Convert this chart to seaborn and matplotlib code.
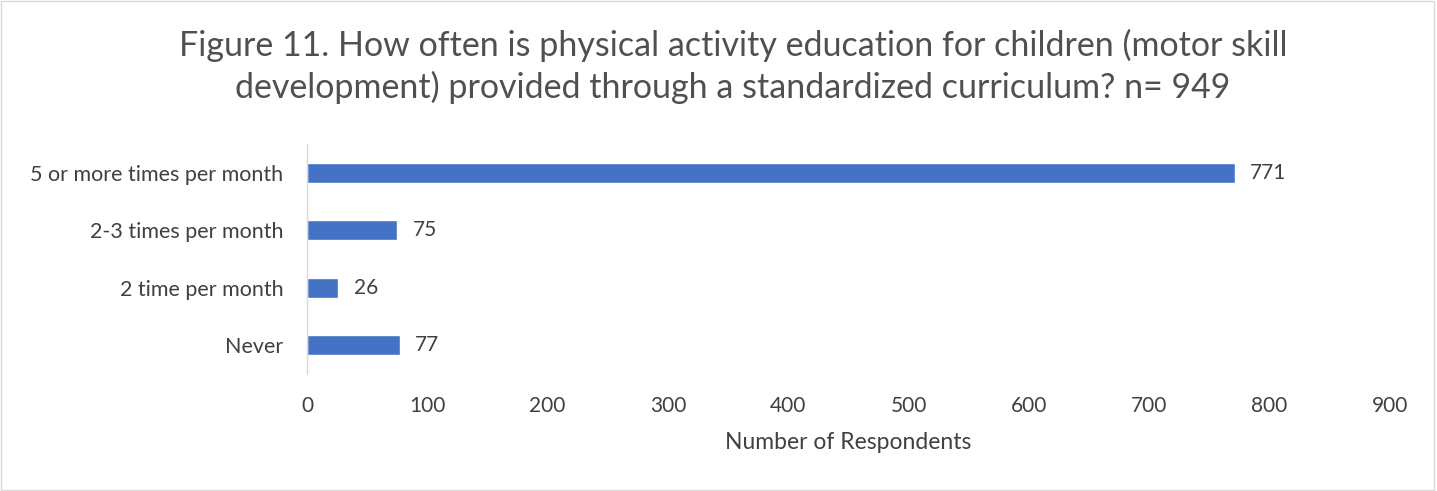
import numpy as np
import pandas as pd
import seaborn as sns
import matplotlib.pyplot as plt
from matplotlib.patches import Rectangle

# ---------- data ----------
categories = ["5 or more times per month", "2-3 times per month", "2 time per month", "Never"]
respondents = [771, 75, 26, 77]
x_ticks = [0, 100, 200, 300, 400, 500, 600, 700, 800, 900]
title = ("Figure 11. How often is physical activity education for children (motor skill\n"
         "development) provided through a standardized curriculum? n= 949")

df = pd.DataFrame({"Category": categories, "Respondents": respondents})

# ---------- style ----------
sns.set_style("white")
plt.rcParams["font.family"] = ["Lato", "DejaVu Sans"]
text_color = "#404040"

fig = plt.figure(figsize=(14.37, 4.91), dpi=100)
ax = fig.add_axes([0.2136, 0.238, 0.7535, 0.469])

sns.barplot(data=df, x="Respondents", y="Category", color="#4472C4",
            width=0.35, saturation=1, ax=ax, orient="h")

for i, v in enumerate(respondents):
    ax.annotate(str(v), (v, i), xytext=(11, 0), textcoords="offset points",
                va="center", ha="left", fontsize=15, color=text_color)

ax.set_xlim(0, 900)
ax.set_xticks(x_ticks)
ax.set_xlabel("Number of Respondents", fontsize=16.5, color=text_color, labelpad=11)
ax.set_ylabel("")
ax.tick_params(axis="x", labelsize=15, colors=text_color, length=0, pad=16)
ax.tick_params(axis="y", labelsize=15.5, colors=text_color, length=0, pad=17)

for side in ["top", "right", "bottom"]:
    ax.spines[side].set_visible(False)
ax.spines["left"].set_color("#d9d9d9")
ax.spines["left"].set_linewidth(1.0)
ax.grid(False)

fig.text(0.51, 0.942, title, ha="center", va="top", fontsize=24.5,
         color="#505050", linespacing=1.33)

fig.patches.append(Rectangle((0.001, 0.002), 0.997, 0.995, transform=fig.transFigure,
                             fill=False, edgecolor="#d9d9d9", linewidth=1.0))

fig.savefig("out.png", dpi=100)
